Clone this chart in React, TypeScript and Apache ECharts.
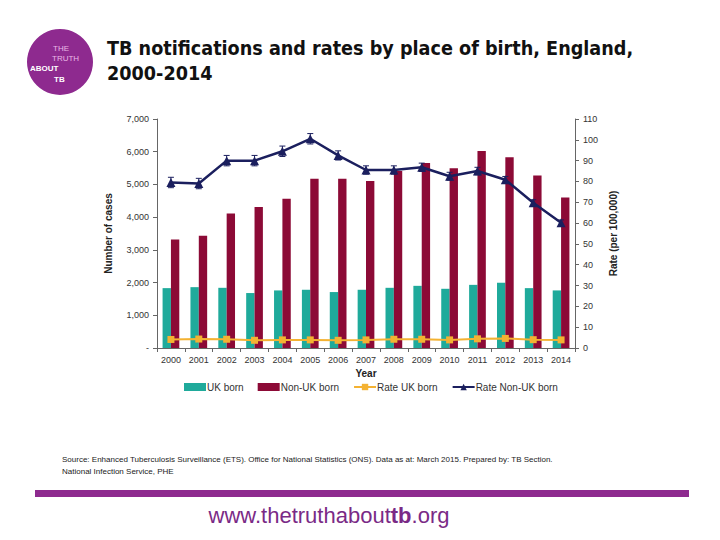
import React, { useEffect, useRef } from "react";
import * as echarts from "echarts";

const years = ["2000","2001","2002","2003","2004","2005","2006","2007","2008","2009","2010","2011","2012","2013","2014"];
const ukBorn = [1830, 1860, 1840, 1680, 1760, 1780, 1710, 1780, 1840, 1900, 1810, 1930, 1995, 1830, 1760];
const nonUkBorn = [3315, 3430, 4110, 4310, 4560, 5170, 5170, 5105, 5410, 5655, 5495, 6025, 5830, 5270, 4600];
const rateUK = [4.1, 4.3, 4.2, 3.7, 3.9, 3.9, 3.7, 3.9, 4.2, 4.2, 3.9, 4.4, 4.6, 4.0, 3.9];
const rateNonUK = [79.5, 79.0, 90.0, 90.0, 94.5, 100.5, 92.5, 85.5, 85.5, 86.8, 82.5, 85.0, 80.8, 69.8, 60.2];
const rateNonUKLow = [77.0, 76.5, 87.5, 87.5, 92.0, 98.0, 90.3, 83.5, 83.5, 84.8, 80.6, 83.2, 79.2, 68.4, 58.9];
const rateNonUKHigh = [82.0, 81.5, 92.5, 92.5, 97.0, 103.0, 94.7, 87.5, 87.5, 88.8, 84.4, 86.8, 82.4, 71.2, 61.5];

const TEAL = "#1FAA9B";
const CRIMSON = "#8C0A36";
const ORANGE = "#F4B232";
const NAVY = "#1B1F5E";
const PURPLE = "#8E2A8F";

export default function App() {
  const ref = useRef<HTMLDivElement>(null);
  useEffect(() => {
    if (!ref.current) return;
    const chart = echarts.init(ref.current, undefined, { renderer: "svg" });
    const axisText = { color: "#333", fontSize: 9, fontFamily: "Liberation Sans, Arial, sans-serif" };
    chart.setOption({
      animation: false,
      backgroundColor: "#fff",
      grid: { left: 157, right: 145, top: 119, bottom: 192 },
      legend: {
        data: [
          { name: "UK born", icon: "rect", itemStyle: { color: TEAL } },
          { name: "Non-UK born", icon: "rect", itemStyle: { color: CRIMSON } },
          { name: "Rate UK born" },
          { name: "Rate Non-UK born" },
        ],
        left: 179,
        top: 377,
        itemWidth: 22,
        itemHeight: 8,
        itemGap: 14,
        textStyle: { color: "#333", fontSize: 10, fontFamily: "Liberation Sans, Arial, sans-serif", padding: [0, 0, 0, -4] },
      },
      xAxis: {
        type: "category",
        data: years,
        name: "Year",
        nameLocation: "middle",
        nameGap: 20,
        nameTextStyle: { fontWeight: "bold", fontSize: 10, color: "#222", fontFamily: "Liberation Sans, Arial, sans-serif" },
        axisLine: { lineStyle: { color: "#666" } },
        axisTick: { show: true, length: 4, lineStyle: { color: "#666" } },
        axisLabel: { ...axisText, margin: 7 },
      },
      yAxis: [
        {
          type: "value",
          min: 0,
          max: 7000,
          interval: 1000,
          name: "Number of cases",
          nameLocation: "middle",
          nameGap: 44,
          nameTextStyle: { fontWeight: "bold", fontSize: 10, color: "#222", fontFamily: "Liberation Sans, Arial, sans-serif" },
          axisLine: { show: true, lineStyle: { color: "#666" } },
          axisTick: { show: true, length: 4, lineStyle: { color: "#666" } },
          splitLine: { show: false },
          axisLabel: {
            ...axisText,
            margin: 8,
            formatter: (v: number) => (v === 0 ? "-" : v.toLocaleString("en-US")),
          },
        },
        {
          type: "value",
          min: 0,
          max: 110,
          interval: 10,
          name: "Rate (per 100,000)",
          nameLocation: "middle",
          nameGap: 29,
          nameTextStyle: { fontWeight: "bold", fontSize: 10, color: "#222", fontFamily: "Liberation Sans, Arial, sans-serif" },
          axisLine: { show: true, lineStyle: { color: "#666" } },
          axisTick: { show: true, length: 4, lineStyle: { color: "#666" } },
          splitLine: { show: false },
          axisLabel: { ...axisText, margin: 8 },
        },
      ],
      series: [
        {
          name: "UK born",
          type: "bar",
          data: ukBorn,
          itemStyle: { color: TEAL },
          barGap: "0%",
          barCategoryGap: "40%",
        },
        {
          name: "Non-UK born",
          type: "bar",
          data: nonUkBorn,
          itemStyle: { color: CRIMSON },
          barGap: "0%",
          barCategoryGap: "40%",
        },
        {
          name: "Rate UK born",
          type: "line",
          yAxisIndex: 1,
          data: rateUK,
          symbol: "rect",
          symbolSize: 7,
          itemStyle: { color: ORANGE },
          lineStyle: { color: ORANGE, width: 2 },
          z: 5,
        },
        {
          type: "custom",
          yAxisIndex: 1,
          data: years.map((_, i) => [i, rateNonUKLow[i], rateNonUKHigh[i]]),
          encode: { x: 0, y: [1, 2] },
          z: 4,
          renderItem: (params: any, api: any) => {
            const x = api.value(0);
            const lo = api.coord([x, api.value(1)]);
            const hi = api.coord([x, api.value(2)]);
            const w = 3;
            const st = { stroke: NAVY, lineWidth: 1 };
            return {
              type: "group",
              children: [
                { type: "line", shape: { x1: lo[0], y1: lo[1], x2: hi[0], y2: hi[1] }, style: st },
                { type: "line", shape: { x1: lo[0] - w, y1: lo[1], x2: lo[0] + w, y2: lo[1] }, style: st },
                { type: "line", shape: { x1: hi[0] - w, y1: hi[1], x2: hi[0] + w, y2: hi[1] }, style: st },
              ],
            };
          },
        },
        {
          name: "Rate Non-UK born",
          type: "line",
          yAxisIndex: 1,
          data: rateNonUK,
          symbol: "triangle",
          symbolSize: 9,
          itemStyle: { color: NAVY },
          lineStyle: { color: NAVY, width: 2.5 },
          z: 6,
        },
      ],
      graphic: [
        { type: "circle", shape: { cx: 60, cy: 62, r: 33 }, style: { fill: PURPLE } },
        { type: "text", style: { x: 53, y: 48, text: "THE", fill: "#E9B8E6", fontSize: 8, fontFamily: "Liberation Sans, Arial, sans-serif", textVerticalAlign: "middle" } },
        { type: "text", style: { x: 52, y: 58, text: "TRUTH", fill: "#E9B8E6", fontSize: 8, fontFamily: "Liberation Sans, Arial, sans-serif", textVerticalAlign: "middle" } },
        { type: "text", style: { x: 30, y: 68, text: "ABOUT", fill: "#fff", fontSize: 8, fontWeight: "bold", fontFamily: "Liberation Sans, Arial, sans-serif", textVerticalAlign: "middle" } },
        { type: "text", style: { x: 54, y: 79, text: "TB", fill: "#fff", fontSize: 8, fontWeight: "bold", fontFamily: "Liberation Sans, Arial, sans-serif", textVerticalAlign: "middle" } },
        {
          type: "text",
          style: {
            x: 107,
            y: 36,
            text: "TB notifications and rates by place of birth, England,\n2000-2014",
            fill: "#111",
            fontSize: 19.6,
            lineHeight: 25,
            fontWeight: "bold",
            fontFamily: "Liberation Sans Narrow, DejaVu Sans Condensed, Arial Narrow, sans-serif",
          },
        },
        {
          type: "text",
          style: {
            x: 62,
            y: 453,
            text: "Source: Enhanced Tuberculosis Surveillance (ETS). Office for National Statistics (ONS). Data as at: March 2015. Prepared by: TB Section.\nNational Infection Service, PHE",
            fill: "#222",
            fontSize: 8,
            lineHeight: 12,
            fontFamily: "Liberation Sans, Arial, sans-serif",
          },
        },
        { type: "rect", shape: { x: 35, y: 490, width: 654, height: 7 }, style: { fill: PURPLE } },
        {
          type: "text",
          style: {
            x: 329,
            y: 515,
            align: "center",
            verticalAlign: "middle",
            text: "{a|www.thetruthabout}{b|tb}{a|.org}",
            rich: {
              a: { fontSize: 22, fill: "#7A2A86", fontFamily: "Liberation Sans, Arial, sans-serif" },
              b: { fontSize: 22, fill: "#7A2A86", fontWeight: "bold", fontFamily: "Liberation Sans, Arial, sans-serif" },
            },
          },
        },
      ],
    });
    return () => chart.dispose();
  }, []);
  return <div ref={ref} style={{ width: 720, height: 540, position: "absolute", left: 0, top: 0 }} />;
}
